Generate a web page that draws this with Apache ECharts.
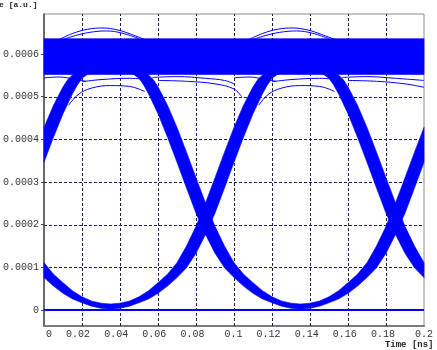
<!DOCTYPE html>
<html><head><meta charset="utf-8">
<script src="https://cdn.jsdelivr.net/npm/echarts@6/dist/echarts.min.js"></script>
<style>html,body{margin:0;padding:0;background:#fff}#c{width:437px;height:350px}</style>
</head><body><div id="c"></div>
<script>
// Axis ticks
const xTicks = [0, 0.02, 0.04, 0.06, 0.08, 0.1, 0.12, 0.14, 0.16, 0.18, 0.2];
const yTicks = [0, 0.0001, 0.0002, 0.0003, 0.0004, 0.0005, 0.0006];
const yMin = -0.0000375, yMax = 0.00069375;

// Eye-diagram bands: upper and lower edges, [time ns, amplitude a.u.]
// Band A: falling tail at left -> bottom U (t=0.035) -> rising through crossing (0.085) -> top
const bandA_upper = [[0,111e-6],[0.005,84e-6],[0.01,64e-6],[0.015,45e-6],[0.02,31e-6],[0.025,21e-6],[0.03,16e-6],[0.035,14e-6],[0.04,16e-6],[0.045,21e-6],[0.05,31e-6],[0.055,45e-6],[0.06,64e-6],[0.065,84e-6],[0.07,111e-6],[0.075,150e-6],[0.08,196e-6],[0.085,251e-6],[0.09,310e-6],[0.095,370e-6],[0.1,428e-6],[0.105,480e-6],[0.11,523e-6],[0.1125,540e-6],[0.115,551e-6],[0.1175,556e-6],[0.12,560e-6],[0.125,565e-6],[0.13,569e-6],[0.135,572e-6]];
const bandA_lower = [[0,76e-6],[0.005,56e-6],[0.01,39e-6],[0.015,26e-6],[0.02,17e-6],[0.025,9e-6],[0.03,4e-6],[0.035,2e-6],[0.04,4e-6],[0.045,9e-6],[0.05,17e-6],[0.055,26e-6],[0.06,39e-6],[0.065,56e-6],[0.07,76e-6],[0.075,99e-6],[0.08,133e-6],[0.085,177e-6],[0.09,227e-6],[0.095,286e-6],[0.1,346e-6],[0.105,405e-6],[0.11,460e-6],[0.115,507e-6],[0.1175,527e-6],[0.12,543e-6],[0.1225,551e-6],[0.125,557e-6],[0.13,563e-6],[0.135,568e-6]];
// Band B: falling from top through crossing (0.085) -> bottom U (0.135) -> rising through crossing (0.185)
const bandB_upper = [[0.035,572e-6],[0.04,569e-6],[0.045,565e-6],[0.05,560e-6],[0.0525,556e-6],[0.055,551e-6],[0.0575,540e-6],[0.06,523e-6],[0.065,480e-6],[0.07,428e-6],[0.075,370e-6],[0.08,310e-6],[0.085,251e-6],[0.09,196e-6],[0.095,150e-6],[0.1,111e-6],[0.105,84e-6],[0.11,64e-6],[0.115,45e-6],[0.12,31e-6],[0.125,21e-6],[0.13,16e-6],[0.135,14e-6],[0.14,16e-6],[0.145,21e-6],[0.15,31e-6],[0.155,45e-6],[0.16,64e-6],[0.165,84e-6],[0.17,111e-6],[0.175,150e-6],[0.18,196e-6],[0.185,251e-6],[0.19,310e-6],[0.195,370e-6],[0.2,428e-6]];
const bandB_lower = [[0.035,568e-6],[0.04,563e-6],[0.045,557e-6],[0.0475,551e-6],[0.05,543e-6],[0.0525,527e-6],[0.055,507e-6],[0.06,460e-6],[0.065,405e-6],[0.07,346e-6],[0.075,286e-6],[0.08,227e-6],[0.085,177e-6],[0.09,133e-6],[0.095,99e-6],[0.1,76e-6],[0.105,56e-6],[0.11,39e-6],[0.115,26e-6],[0.12,17e-6],[0.125,9e-6],[0.13,4e-6],[0.135,2e-6],[0.14,4e-6],[0.145,9e-6],[0.15,17e-6],[0.155,26e-6],[0.16,39e-6],[0.165,56e-6],[0.17,76e-6],[0.175,99e-6],[0.18,133e-6],[0.185,177e-6],[0.19,227e-6],[0.195,286e-6],[0.2,346e-6]];
// Band C: rising at the left edge into the top level
const bandC_upper = [[0,428e-6],[0.005,480e-6],[0.01,523e-6],[0.0125,540e-6],[0.015,551e-6],[0.0175,556e-6],[0.02,560e-6],[0.025,565e-6],[0.03,569e-6],[0.035,572e-6]];
const bandC_lower = [[0,346e-6],[0.005,405e-6],[0.01,460e-6],[0.015,507e-6],[0.0175,527e-6],[0.02,543e-6],[0.0225,551e-6],[0.025,557e-6],[0.03,563e-6],[0.035,568e-6]];
// Band D: falling from the top level at the right edge
const bandD_upper = [[0.135,572e-6],[0.14,569e-6],[0.145,565e-6],[0.15,560e-6],[0.1525,556e-6],[0.155,551e-6],[0.1575,540e-6],[0.16,523e-6],[0.165,480e-6],[0.17,428e-6],[0.175,370e-6],[0.18,310e-6],[0.185,251e-6],[0.19,196e-6],[0.195,150e-6],[0.2,111e-6]];
const bandD_lower = [[0.135,568e-6],[0.14,563e-6],[0.145,557e-6],[0.1475,551e-6],[0.15,543e-6],[0.1525,527e-6],[0.155,507e-6],[0.16,460e-6],[0.165,405e-6],[0.17,346e-6],[0.175,286e-6],[0.18,227e-6],[0.185,177e-6],[0.19,133e-6],[0.195,99e-6],[0.2,76e-6]];
// Top "1" level band
const topBand_upper = [[0,636e-6],[0.2,636e-6]];
const topBand_lower = [[0,552e-6],[0.2,552e-6]];

// Individual stray traces
const zeroLevel = [[0,0],[0.2,0]];
const hump1 = [[0.008,634e-6],[0.015,648e-6],[0.023,658e-6],[0.031,661e-6],[0.039,656e-6],[0.046,646e-6],[0.053,634e-6]];
const hump2 = [[0.01,634e-6],[0.018,645e-6],[0.026,652e-6],[0.033,654e-6],[0.041,649e-6],[0.05,636e-6]];
const hump3 = [[0.108,634e-6],[0.115,648e-6],[0.123,658e-6],[0.131,661e-6],[0.139,656e-6],[0.146,646e-6],[0.153,634e-6]];
const hump4 = [[0.11,634e-6],[0.118,645e-6],[0.126,652e-6],[0.133,654e-6],[0.141,649e-6],[0.15,636e-6]];
const low1 = [[0,544e-6],[0.008,546e-6],[0.016,541e-6],[0.022,536e-6]];
const low2 = [[0.013,480e-6],[0.018,505e-6],[0.025,520e-6],[0.035,526e-6],[0.045,524e-6],[0.053,512e-6]];
const low3 = [[0.02,535e-6],[0.03,540e-6],[0.045,543e-6],[0.055,540e-6]];
const low4 = [[0.057,545e-6],[0.07,547e-6],[0.085,543e-6],[0.095,538e-6],[0.1,530e-6]];
const low5 = [[0.06,538e-6],[0.075,536e-6],[0.09,530e-6],[0.1,518e-6],[0.104,500e-6]];
const low6 = [[0.1,544e-6],[0.108,546e-6],[0.116,541e-6],[0.122,536e-6]];
const low7 = [[0.113,480e-6],[0.118,505e-6],[0.125,520e-6],[0.135,526e-6],[0.145,524e-6],[0.153,512e-6]];
const low8 = [[0.12,535e-6],[0.13,540e-6],[0.145,543e-6],[0.155,540e-6]];
const low9 = [[0.157,545e-6],[0.17,547e-6],[0.185,543e-6],[0.2,538e-6]];
const low10 = [[0.16,538e-6],[0.175,536e-6],[0.19,530e-6],[0.2,522e-6]];

const BLUE = '#0000ff';
const bands = [
  {upper: topBand_upper, lower: topBand_lower},
  {upper: bandA_upper, lower: bandA_lower},
  {upper: bandB_upper, lower: bandB_lower},
  {upper: bandC_upper, lower: bandC_lower},
  {upper: bandD_upper, lower: bandD_lower}
];
const traces = [zeroLevel, hump1, hump2, hump3, hump4, low1, low2, low3, low4, low5, low6, low7, low8, low9, low10];

const chart = echarts.init(document.getElementById('c'), null, {renderer: 'canvas'});
const font = {fontFamily: 'Liberation Mono', fontSize: 10, color: '#333'};
const GRID_COLOR = '#1e1e5a';

const series = [];
// grid lines (under data)
series.push({
  type: 'custom', z: 1, silent: true, xAxisIndex: 0, yAxisIndex: 0,
  data: yTicks.map(v => [xTicks[0], v]),
  renderItem: (p, api) => {
    const a = api.coord([xTicks[0], api.value(1)]);
    const b = api.coord([xTicks[xTicks.length - 1], api.value(1)]);
    const y = Math.round(a[1]) + 0.5;
    return {type: 'line', shape: {x1: a[0], y1: y, x2: b[0], y2: y}, style: {stroke: GRID_COLOR, lineWidth: 1, lineDash: [3, 2]}};
  }
});
series.push({
  type: 'custom', z: 1, silent: true, xAxisIndex: 0, yAxisIndex: 0,
  data: xTicks.slice(1, -1).map(v => [v, 0]),
  renderItem: (p, api) => {
    const a = api.coord([api.value(0), yMin]);
    const b = api.coord([api.value(0), yMax]);
    const x = Math.round(a[0]) + 0.5;
    return {type: 'line', shape: {x1: x, y1: a[1], x2: x, y2: b[1]}, style: {stroke: GRID_COLOR, lineWidth: 1, lineDash: [3, 2]}};
  }
});
// bands
series.push({
  type: 'custom', z: 2, silent: true, xAxisIndex: 0, yAxisIndex: 0,
  data: bands.map(() => [0.1, 0.0003]),
  renderItem: (p, api) => {
    const b = bands[p.dataIndex];
    const pts = b.upper.map(q => api.coord(q)).concat(b.lower.slice().reverse().map(q => api.coord(q)));
    return {type: 'polygon', shape: {points: pts}, style: {fill: BLUE, stroke: BLUE, lineWidth: 0.6}};
  }
});
traces.forEach((d, i) => {
  series.push({
    type: 'line', z: 3, xAxisIndex: 0, yAxisIndex: 0, data: d, showSymbol: false, smooth: i === 0 ? false : 0.4,
    silent: true, lineStyle: {color: BLUE, width: i === 0 ? 2 : 1}
  });
});

chart.setOption({
  animation: false,
  backgroundColor: '#fff',
  grid: [
    {left: 43, right: 13, top: 14, bottom: 24, show: true, borderColor: '#8c8c8c', borderWidth: 1, backgroundColor: '#fff'},
    {left: 52, right: 4, top: 14, bottom: 24, show: false}
  ],
  xAxis: [
    {gridIndex: 0, type: 'value', min: 0, max: 0.2, interval: 0.02,
     axisLine: {onZero: false, lineStyle: {color: '#7a7a7a', width: 2}},
     axisTick: {show: false}, axisLabel: {show: false}, splitLine: {show: false}},
    {gridIndex: 1, type: 'value', min: 0, max: 0.2, interval: 0.02,
     axisLine: {show: false}, axisTick: {show: false}, splitLine: {show: false},
     axisLabel: Object.assign({align: 'right', margin: 3, showMinLabel: true, showMaxLabel: true,
       formatter: v => String(+v.toFixed(2))}, font)}
  ],
  yAxis: [
    {gridIndex: 0, type: 'value', min: yMin, max: yMax,
     axisLine: {show: true, onZero: false, lineStyle: {color: '#4a4a4a', width: 1.5}},
     axisTick: {show: true, length: 3, customValues: yTicks, lineStyle: {color: '#4a4a4a'}},
     axisLabel: Object.assign({customValues: yTicks, margin: 5,
       formatter: v => v === 0 ? '0' : v.toFixed(4)}, font),
     splitLine: {show: false}},
    {gridIndex: 1, type: 'value', min: yMin, max: yMax, show: false}
  ],
  graphic: [
    {type: 'text', x: 37.5, y: 5, silent: true,
     style: {text: 'Amplitude [a.u.]', align: 'right', verticalAlign: 'middle', font: 'bold 8px "Liberation Mono"', fill: '#222'}},
    {type: 'text', x: 433.5, y: 345, silent: true,
     style: {text: 'Time [ns]', align: 'right', verticalAlign: 'middle', font: 'bold 9px "Liberation Mono"', fill: '#222'}}
  ],
  series: series
});
</script>
</body></html>
